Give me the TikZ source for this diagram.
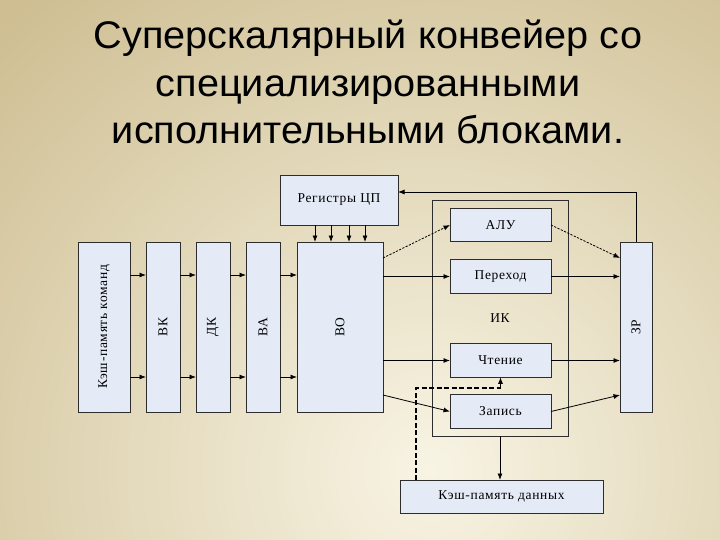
\documentclass[tikz,border=0pt]{standalone}
\usepackage{fontspec}
\setmainfont{Liberation Serif}
\newfontfamily\titlefont[FakeStretch=1.03]{Liberation Sans}
\newfontfamily\diagfont[LetterSpace=5]{Liberation Serif}
\usetikzlibrary{arrows.meta,calc}
\definecolor{bgtan}{RGB}{206,190,146}
\definecolor{bgcream}{RGB}{248,244,228}
\definecolor{boxfill}{RGB}{228,234,246}
\definecolor{edge}{RGB}{45,45,45}
\tikzset{
  blk/.style={draw=edge, fill=boxfill, line width=0.9pt, inner sep=0pt, outer sep=0pt,
    font=\diagfont\fontsize{13.5}{15}\selectfont},
  vblk/.style={blk, minimum width=34pt, minimum height=170pt},
  hblk/.style={blk, minimum width=101pt, minimum height=33.5pt},
  arr/.style={draw=black, line width=0.8pt, -{Latex[length=6.5pt,width=5pt]}},
  dotarr/.style={arr, dash pattern=on 2.2pt off 1.4pt},
  thickdash/.style={draw=black, line width=1.6pt, dash pattern=on 5pt off 2.5pt},
}
\begin{document}
\begin{tikzpicture}[x=1pt,y=-1pt]
\useasboundingbox (0,0) rectangle (720,540);
\begin{scope}
\clip (0,0) rectangle (720,540);
\fill[bgtan] (0,0) rectangle (720,540);
\shade[inner color=bgcream, outer color=bgtan] (430,470) circle (620);
\end{scope}
% title
\node[font=\titlefont\fontsize{38.5}{47.5}\selectfont, align=center, anchor=north, inner sep=0pt]
  (title) at (368,20) {Суперскалярный конвейер со\\специализированными\\исполнительными блоками.};
% blocks
\node[blk, minimum width=118pt, minimum height=50pt] (reg) at (339,200) {Регистры ЦП};
\node[vblk, minimum width=52pt] (km) at (104,327) {\rotatebox{90}{Кэш-память команд}};
\node[vblk] (vk) at (163,327) {\rotatebox{90}{ВК}};
\node[vblk] (dk) at (213,327) {\rotatebox{90}{ДК}};
\node[vblk] (va) at (263,327) {\rotatebox{90}{ВА}};
\node[vblk, minimum width=86pt] (vo) at (340,327) {\rotatebox{90}{ВО}};
\node[draw=edge, line width=0.9pt, minimum width=136pt, minimum height=236pt, inner sep=0pt, outer sep=0pt] (ik) at (500,318) {};
\node[font=\diagfont\fontsize{13.5}{15}\selectfont] (iklab) at (500,318) {ИК};
\node[hblk] (alu) at (500.5,225) {АЛУ};
\node[hblk] (per) at (500.5,276.5) {Переход};
\node[hblk] (cht) at (500.5,360.5) {Чтение};
\node[hblk] (zap) at (500.5,411.5) {Запись};
\node[vblk, minimum width=32pt] (zr) at (636,327) {\rotatebox{90}{ЗР}};
\node[blk, minimum width=203pt, minimum height=33pt] (kd) at (501.5,496.5) {Кэш-память данных};
% helper coordinates
\coordinate (ya) at (0,275);
\coordinate (yb) at (0,377);
\coordinate (y258) at (0,258);
\coordinate (y395) at (0,395);
\coordinate (ytop) at (0,192);
\coordinate (ydash) at (0,388);
\coordinate (xdash) at (416,0);
\coordinate (r1) at (315,0);
\coordinate (r2) at (331,0);
\coordinate (r3) at (349,0);
\coordinate (r4) at (365,0);
% pipeline arrows
\foreach \a/\b in {km/vk, vk/dk, dk/va, va/vo}{
  \draw[arr] (\a.east |- ya) -- (\b.west |- ya);
  \draw[arr] (\a.east |- yb) -- (\b.west |- yb);
}
% registers to VO
\foreach \r in {r1,r2,r3,r4}{
  \draw[arr] (reg.south -| \r) -- (vo.north -| \r);
}
% ZR back to registers
\draw[arr] (zr.north) |- (reg.east |- ytop);
% VO to units
\draw[dotarr] (vo.east |- y258) -- (alu.west);
\draw[arr] (vo.east |- per.west) -- (per.west);
\draw[arr] (vo.east |- cht.west) -- (cht.west);
\draw[arr] (vo.east |- y395) -- (zap.west);
% units to ZR
\draw[dotarr] (alu.east) -- (zr.west |- y258);
\draw[arr] (per.east) -- (zr.west |- per.east);
\draw[arr] (cht.east) -- (zr.west |- cht.east);
\draw[arr] (zap.east) -- (zr.west |- y395);
% IK to data cache
\draw[arr] (ik.south) -- (kd.north -| ik.south);
% data cache to read unit
\draw[thickdash] (kd.north -| xdash) -- (xdash |- ydash) -- (cht.south |- ydash);
\draw[arr] (cht.south |- ydash) -- (cht.south);
\end{tikzpicture}
\end{document}
